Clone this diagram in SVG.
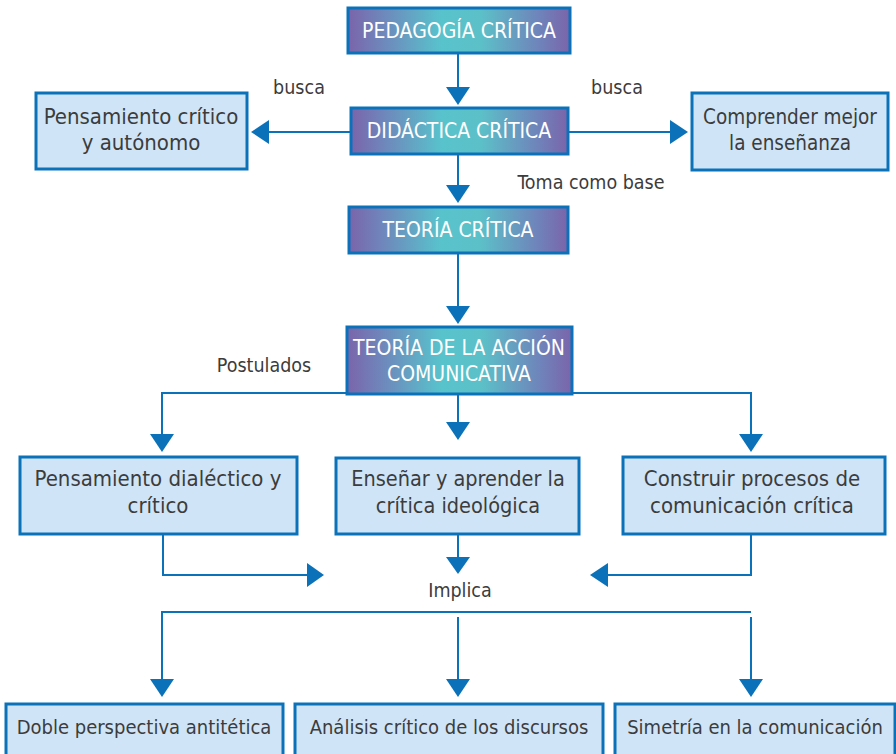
<svg xmlns="http://www.w3.org/2000/svg" width="896" height="754" viewBox="0 0 896 754">
<defs>
<linearGradient id="g" x1="0" y1="0" x2="1" y2="0">
<stop offset="0" stop-color="#7a64aa"/>
<stop offset="0.15" stop-color="#6f86bb"/>
<stop offset="0.42" stop-color="#58c3cc"/>
<stop offset="0.6" stop-color="#5cc0c8"/>
<stop offset="0.85" stop-color="#6e86bb"/>
<stop offset="1" stop-color="#7a64aa"/>
</linearGradient>
</defs>
<style>
.h{fill:url(#g);stroke:#0b72b9;stroke-width:3}
.b{fill:#cfe5f7;stroke:#0b72b9;stroke-width:3}
.ht{font-family:"DejaVu Sans Condensed","DejaVu Sans",sans-serif;font-size:21px;fill:#ffffff;text-anchor:middle}
.t{font-family:"DejaVu Sans Condensed","DejaVu Sans",sans-serif;font-size:22px;fill:#3c3c3c;text-anchor:middle}
.s{font-family:"DejaVu Sans Condensed","DejaVu Sans",sans-serif;font-size:20px;fill:#3c3c3c;text-anchor:middle}
.l{font-family:"DejaVu Sans Condensed","DejaVu Sans",sans-serif;font-size:19.5px;fill:#3c3c3c;text-anchor:middle}
.c{fill:none;stroke:#0b72b9;stroke-width:2}
.a{fill:#0b72b9;stroke:none}
</style>
<rect width="896" height="754" fill="#ffffff"/>
<g id="connectors">
<line class="c" x1="458" y1="53" x2="458" y2="88"/>
<polygon class="a" points="446,87 470,87 458,105"/>
<line class="c" x1="350" y1="132" x2="268" y2="132"/>
<polygon class="a" points="269,120 269,144 251,132"/>
<line class="c" x1="568" y1="132" x2="671" y2="132"/>
<polygon class="a" points="670,120 670,144 688,132"/>
<line class="c" x1="458" y1="154" x2="458" y2="186"/>
<polygon class="a" points="446,185 470,185 458,203"/>
<line class="c" x1="458" y1="253" x2="458" y2="307"/>
<polygon class="a" points="446,306 470,306 458,324"/>
<polyline class="c" points="347,393 162,393 162,435"/>
<polyline class="c" points="572,393 751,393 751,435"/>
<polygon class="a" points="150,434 174,434 162,452"/>
<polygon class="a" points="739,434 763,434 751,452"/>
<line class="c" x1="458" y1="394" x2="458" y2="423"/>
<polygon class="a" points="446,422 470,422 458,440"/>
<polyline class="c" points="163,534 163,575 308,575"/>
<polygon class="a" points="307,563 307,587 324,575"/>
<polyline class="c" points="751,534 751,575 607,575"/>
<polygon class="a" points="608,563 608,587 590,575"/>
<line class="c" x1="458" y1="534" x2="458" y2="558"/>
<polygon class="a" points="446,557 470,557 458,574"/>
<polyline class="c" points="751,612 162,612 162,680"/>
<polygon class="a" points="150,679 174,679 162,697"/>
<line class="c" x1="458" y1="617" x2="458" y2="680"/>
<polygon class="a" points="446,679 470,679 458,697"/>
<line class="c" x1="751" y1="617" x2="751" y2="680"/>
<polygon class="a" points="739,679 763,679 751,697"/>
<text class="l" x="299" y="94">busca</text>
<text class="l" x="617" y="94">busca</text>
<text class="l" x="591" y="189">Toma como base</text>
<text class="l" x="264" y="372">Postulados</text>
<text class="l" x="460" y="597">Implica</text>
</g>
<g id="pedagogia">
<rect class="h" x="348" y="8" width="222" height="45"/>
<text class="ht" x="459" y="38">PEDAGOGÍA CRÍTICA</text>
</g>
<g id="didactica">
<rect class="h" x="351" y="108" width="217" height="46"/>
<text class="ht" x="459" y="138">DIDÁCTICA CRÍTICA</text>
</g>
<g id="pensamiento">
<rect class="b" x="36" y="93" width="211" height="76"/>
<text class="t" x="141" y="124">Pensamiento crítico</text>
<text class="t" x="141" y="150">y autónomo</text>
</g>
<g id="comprender">
<rect class="b" x="692" y="93" width="196" height="77"/>
<text class="t" x="790" y="124" style="font-size:20.5px">Comprender mejor</text>
<text class="t" x="790" y="150" style="font-size:20.5px">la enseñanza</text>
</g>
<g id="teoria">
<rect class="h" x="349" y="207" width="219" height="46"/>
<text class="ht" x="458" y="237">TEORÍA CRÍTICA</text>
</g>
<g id="accion">
<rect class="h" x="347" y="327" width="225" height="67"/>
<text class="ht" x="459" y="355">TEORÍA DE LA ACCIÓN</text>
<text class="ht" x="459" y="381">COMUNICATIVA</text>
</g>
<g id="dialectico">
<rect class="b" x="20" y="457" width="277" height="77"/>
<text class="t" x="158" y="486">Pensamiento dialéctico y</text>
<text class="t" x="158" y="513">crítico</text>
</g>
<g id="ensenar">
<rect class="b" x="336" y="458" width="243" height="76"/>
<text class="t" x="458" y="486" style="font-size:21.5px">Enseñar y aprender la</text>
<text class="t" x="458" y="513" style="font-size:21.5px">crítica ideológica</text>
</g>
<g id="construir">
<rect class="b" x="623" y="457" width="262" height="77"/>
<text class="t" x="752" y="486">Construir procesos de</text>
<text class="t" x="752" y="513">comunicación crítica</text>
</g>
<g id="doble">
<rect class="b" x="6" y="704" width="277" height="58"/>
<text class="s" x="144" y="734">Doble perspectiva antitética</text>
</g>
<g id="analisis">
<rect class="b" x="295" y="704" width="308" height="58"/>
<text class="s" x="449" y="734">Análisis crítico de los discursos</text>
</g>
<g id="simetria">
<rect class="b" x="615" y="704" width="280" height="58"/>
<text class="s" x="755" y="734">Simetría en la comunicación</text>
</g>
</svg>
